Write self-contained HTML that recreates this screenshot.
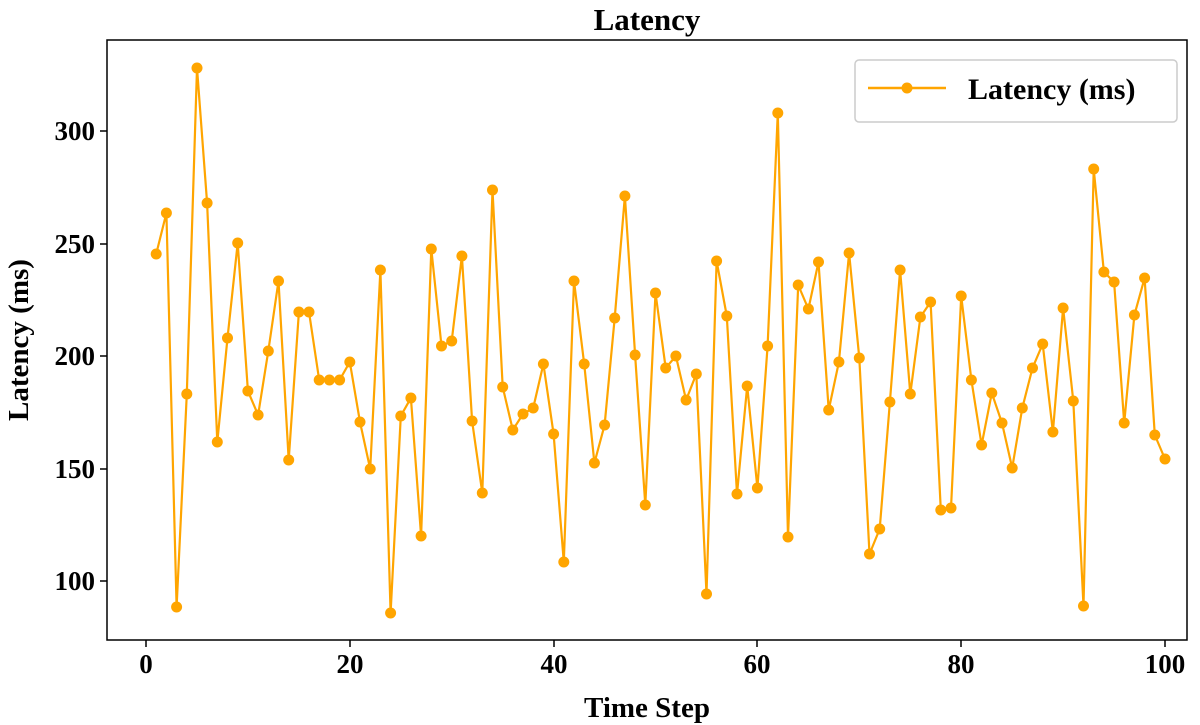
<!DOCTYPE html>
<html><head><style>
html,body{margin:0;padding:0;background:#fff;}
svg{display:block;}
text{font-family:"Liberation Serif",serif;font-weight:bold;fill:#000;}
</style></head><body>
<svg width="1200" height="725" xmlns="http://www.w3.org/2000/svg">
<defs>
<marker id="m" markerUnits="userSpaceOnUse" markerWidth="12" markerHeight="12" refX="6" refY="6" viewBox="0 0 12 12"><circle cx="6" cy="6" r="5.5" fill="#FFA500"/></marker>
</defs>
<rect x="107" y="40" width="1080" height="600" fill="#fff" stroke="#000" stroke-width="1.5"/>
<text x="647" y="30" font-size="31" text-anchor="middle">Latency</text>
<text x="647" y="717" font-size="29" text-anchor="middle">Time Step</text>
<text transform="translate(28,340) rotate(-90)" font-size="29" text-anchor="middle">Latency (ms)</text>
<g stroke="#000" stroke-width="1.5">
<line x1="146" y1="640" x2="146" y2="647"/><line x1="350" y1="640" x2="350" y2="647"/><line x1="554" y1="640" x2="554" y2="647"/><line x1="757" y1="640" x2="757" y2="647"/><line x1="961" y1="640" x2="961" y2="647"/><line x1="1165" y1="640" x2="1165" y2="647"/>
<line x1="100" y1="131" x2="107" y2="131"/><line x1="100" y1="244" x2="107" y2="244"/><line x1="100" y1="356" x2="107" y2="356"/><line x1="100" y1="469" x2="107" y2="469"/><line x1="100" y1="581" x2="107" y2="581"/>
</g>
<g font-size="27" text-anchor="middle">
<text x="146" y="673">0</text><text x="350" y="673">20</text><text x="554" y="673">40</text><text x="757" y="673">60</text><text x="961" y="673">80</text><text x="1165" y="673">100</text>
</g>
<g font-size="27" text-anchor="end">
<text x="95" y="140">300</text><text x="95" y="253">250</text><text x="95" y="365">200</text><text x="95" y="478">150</text><text x="95" y="590">100</text>
</g>
<polyline fill="none" stroke="#FFA500" stroke-width="2.2" marker-start="url(#m)" marker-mid="url(#m)" marker-end="url(#m)" points="156.2,254 166.4,213 176.6,607 186.8,394 197.0,68 207.1,203 217.3,442 227.5,338 237.7,243 247.9,391 258.1,415 268.3,351 278.5,281 288.7,460 298.9,312 309.0,312 319.2,380 329.4,380 339.6,380 349.8,362 360.0,422 370.2,469 380.4,270 390.6,613 400.8,416 410.9,398 421.1,536 431.3,249 441.5,346 451.7,341 461.9,256 472.1,421 482.3,493 492.5,190 502.7,387 512.8,430 523.0,414 533.2,408 543.4,364 553.6,434 563.8,562 574.0,281 584.2,364 594.4,463 604.6,425 614.7,318 624.9,196 635.1,355 645.3,505 655.5,293 665.7,368 675.9,356 686.1,400 696.3,374 706.5,594 716.6,261 726.8,316 737.0,494 747.2,386 757.4,488 767.6,346 777.8,113 788.0,537 798.2,285 808.4,309 818.5,262 828.7,410 838.9,362 849.1,253 859.3,358 869.5,554 879.7,529 889.9,402 900.1,270 910.3,394 920.4,317 930.6,302 940.8,510 951.0,508 961.2,296 971.4,380 981.6,445 991.8,393 1002.0,423 1012.2,468 1022.3,408 1032.5,368 1042.7,344 1052.9,432 1063.1,308 1073.3,401 1083.5,606 1093.7,169 1103.9,272 1114.1,282 1124.2,423 1134.4,315 1144.6,278 1154.8,435 1165.0,459"/>
<rect x="855" y="60" width="322" height="62" rx="4" fill="#fff" stroke="#ccc" stroke-width="1.5"/>
<line x1="868" y1="88" x2="946" y2="88" stroke="#FFA500" stroke-width="2.5"/>
<circle cx="907" cy="88" r="5.5" fill="#FFA500"/>
<text x="968" y="99" font-size="30">Latency (ms)</text>
</svg>
</body></html>
